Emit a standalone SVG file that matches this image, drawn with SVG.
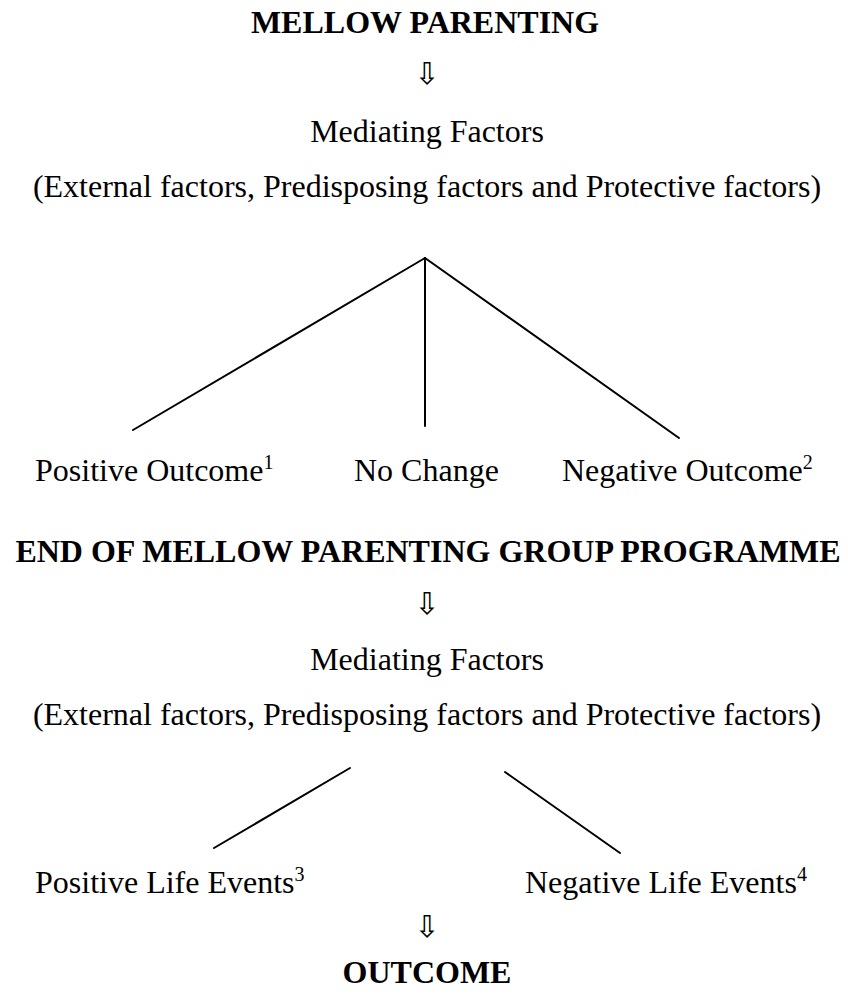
<svg xmlns="http://www.w3.org/2000/svg" width="848" height="1003" viewBox="0 0 848 1003">
<style>
.t{font-family:"Liberation Serif","Times New Roman",serif;font-size:32px;fill:#000;text-anchor:middle}
.l{text-anchor:start}
.b{font-weight:bold}
.s{font-size:20px}
.a{font-family:"DejaVu Sans",sans-serif;font-size:30px;fill:#000;text-anchor:middle}
.c line{stroke:#000;stroke-width:2;stroke-linecap:round}
</style>
<rect width="848" height="1003" fill="#fff"/>
<g id="mellow"><text class="t b" x="425" y="33">MELLOW PARENTING</text></g>
<g id="mediating1"><text class="t" x="427" y="142">Mediating Factors</text><text class="t" x="427" y="197">(External factors, Predisposing factors and Protective factors)</text></g>
<g id="positive"><text class="t l" x="35" y="481">Positive Outcome<tspan class="s" dy="-12">1</tspan></text></g>
<g id="nochange"><text class="t l" x="354" y="481">No Change</text></g>
<g id="negative"><text class="t l" x="562" y="481">Negative Outcome<tspan class="s" dy="-12">2</tspan></text></g>
<g id="end"><text class="t b" x="428" y="562">END OF MELLOW PARENTING GROUP PROGRAMME</text></g>
<g id="mediating2"><text class="t" x="427" y="670">Mediating Factors</text><text class="t" x="427" y="725">(External factors, Predisposing factors and Protective factors)</text></g>
<g id="posevents"><text class="t l" x="35" y="893">Positive Life Events<tspan class="s" dy="-12">3</tspan></text></g>
<g id="negevents"><text class="t l" x="525" y="893">Negative Life Events<tspan class="s" dy="-12">4</tspan></text></g>
<g id="outcome"><text class="t b" x="427" y="983">OUTCOME</text></g>
<g id="connectors" class="c">
<text class="a" x="427" y="84">⇩</text>
<text class="a" x="427" y="614">⇩</text>
<text class="a" x="427" y="937">⇩</text>
<line x1="425" y1="258" x2="133" y2="430"/>
<line x1="425" y1="258" x2="425" y2="426"/>
<line x1="425" y1="258" x2="679" y2="438"/>
<line x1="350" y1="768" x2="214" y2="848"/>
<line x1="505" y1="772" x2="620" y2="853"/>
</g>
</svg>
